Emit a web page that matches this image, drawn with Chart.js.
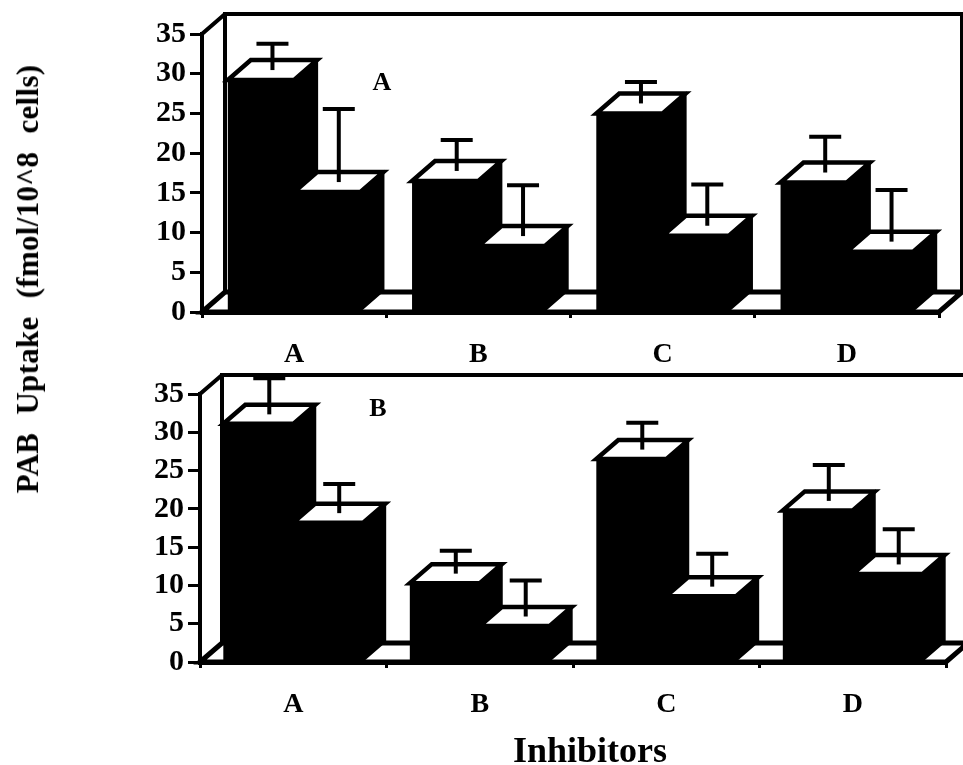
<!DOCTYPE html>
<html><head><meta charset="utf-8">
<script src="https://cdn.jsdelivr.net/npm/chart.js@4.4.1/dist/chart.umd.min.js"></script>
<style>
html,body{margin:0;padding:0;background:#fff;}
#wrap{position:relative;width:963px;height:765px;overflow:hidden;background:#fff;}
#c1{position:absolute;left:0;top:0;width:963px;height:375px;}
#c2{position:absolute;left:0;top:360px;width:963px;height:405px;}
#ytitle{position:absolute;left:28px;top:279px;transform:translate(-50%,-50%) rotate(-90deg);white-space:nowrap;font:bold 31px "Liberation Serif";word-spacing:10px;letter-spacing:0.3px;color:#000;}
</style></head>
<body><div id="wrap">
<canvas id="c1" width="963" height="375"></canvas>
<canvas id="c2" width="963" height="405"></canvas>
<div id="ytitle">PAB Uptake (fmol/10^8 cells)</div>
</div>
<script>
const categories = ['A', 'B', 'C', 'D'];
const tickValues = [0, 5, 10, 15, 20, 25, 30, 35];
const yTitle = 'PAB Uptake (fmol/10^8 cells)';
const xTitle = 'Inhibitors';
// Panel A
const panelA_series1 = [29.2, 16.5, 25.0, 16.3];
const panelA_series2 = [15.1, 8.3, 9.6, 7.6];
const panelA_err1 = [3.3, 3.9, 2.7, 4.5];
const panelA_err2 = [9.2, 6.4, 5.2, 6.5];
// Panel B
const panelB_series1 = [31.1, 10.3, 26.5, 19.8];
const panelB_series2 = [18.2, 4.7, 8.6, 11.5];
const panelB_err1 = [4.7, 3.0, 3.5, 4.7];
const panelB_err2 = [3.8, 4.7, 4.3, 4.6];

const FONT = '"Liberation Serif", "Times New Roman", serif';

function box3d(cfg) {
  return {
    id: 'box3d',
    beforeDatasetsDraw(chart) {
      const ctx = chart.ctx;
      const {left: L, right: R, top: T, bottom: B} = chart.chartArea;
      const dx = cfg.dx, dy = cfg.dy;
      ctx.save();
      ctx.strokeStyle = '#000';
      ctx.lineJoin = 'miter';
      ctx.lineWidth = 4;
      ctx.strokeRect(L + dx, T - dy, R - L, B - T);
      ctx.beginPath();
      ctx.moveTo(L, B); ctx.lineTo(L, T); ctx.lineTo(L + dx, T - dy);
      ctx.stroke();
      ctx.beginPath();
      ctx.moveTo(L, B); ctx.lineTo(L + dx, B - dy); ctx.lineTo(R + dx, B - dy); ctx.lineTo(R, B);
      ctx.closePath();
      ctx.fillStyle = '#fff'; ctx.fill();
      ctx.lineWidth = 5; ctx.stroke();
      const n = chart.data.labels.length;
      const metas = chart.data.datasets.map((d, i) => chart.getDatasetMeta(i));
      for (let i = 0; i < n; i++) {
        for (const m of metas) {
          const bar = m.data[i];
          const p = bar.getProps(['x', 'y', 'base', 'width'], true);
          const x1 = p.x - p.width / 2, x2 = p.x + p.width / 2, y = p.y, base = p.base;
          ctx.beginPath();
          ctx.moveTo(x2, y); ctx.lineTo(x2 + dx, y - dy); ctx.lineTo(x2 + dx, base - dy); ctx.lineTo(x2, base);
          ctx.closePath();
          ctx.fillStyle = '#000'; ctx.fill(); ctx.lineWidth = 2; ctx.stroke();
          ctx.beginPath();
          ctx.moveTo(x1, y); ctx.lineTo(x2, y); ctx.lineTo(x2 + dx, y - dy); ctx.lineTo(x1 + dx, y - dy);
          ctx.closePath();
          ctx.fillStyle = '#fff'; ctx.fill(); ctx.lineWidth = 4.5; ctx.stroke();
        }
      }
      ctx.restore();
    },
    afterDatasetsDraw(chart) {
      const ctx = chart.ctx;
      const yScale = chart.scales.y;
      const dx = cfg.dx, dy = cfg.dy;
      ctx.save();
      ctx.strokeStyle = '#000';
      ctx.lineWidth = 4;
      chart.data.datasets.forEach((ds, d) => {
        const meta = chart.getDatasetMeta(d);
        ds.data.forEach((v, i) => {
          const e = cfg.errors[d][i];
          const bar = meta.data[i];
          const xs = bar.x + dx / 2;
          const y0 = yScale.getPixelForValue(v) - dy / 2;
          const y1 = yScale.getPixelForValue(v + e) - dy / 2;
          ctx.beginPath(); ctx.moveTo(xs, y0); ctx.lineTo(xs, y1); ctx.stroke();
          ctx.beginPath(); ctx.moveTo(xs - 16, y1); ctx.lineTo(xs + 16, y1); ctx.stroke();
        });
      });
      ctx.fillStyle = '#000';
      ctx.font = 'bold 26px ' + FONT;
      ctx.textAlign = 'center';
      ctx.textBaseline = 'middle';
      ctx.fillText(cfg.letter, cfg.lx, cfg.ly);
      if (cfg.xTitle) {
        ctx.font = 'bold 36px ' + FONT;
        ctx.textBaseline = 'alphabetic';
        ctx.fillText(cfg.xTitle, cfg.tx, cfg.ty);
      }
      ctx.restore();
    }
  };
}

function makePanel(id, s1, s2, e1, e2, cfg) {
  return new Chart(document.getElementById(id), {
    type: 'bar',
    data: {
      labels: categories,
      datasets: [
        {data: s1, backgroundColor: '#000', borderWidth: 0, categoryPercentage: cfg.catPct, barPercentage: 1.0},
        {data: s2, backgroundColor: '#000', borderWidth: 0, categoryPercentage: cfg.catPct, barPercentage: 1.0}
      ]
    },
    options: {
      responsive: false,
      animation: false,
      devicePixelRatio: 1,
      layout: {padding: {left: 0, right: cfg.padRight, top: cfg.padTop, bottom: 0}},
      plugins: {legend: {display: false}, tooltip: {enabled: false}, title: {display: false}},
      scales: {
        x: {
          type: 'category',
          offset: true,
          grid: {offset: true, drawOnChartArea: false, drawTicks: true, tickLength: 6, color: '#000', lineWidth: 3},
          border: {display: true, color: '#000', width: 5},
          ticks: {color: '#000', font: {family: FONT, size: 28, weight: 'bold'}, padding: 20, maxRotation: 0, autoSkip: false},
          afterFit: (s) => { s.height = cfg.xHeight; }
        },
        y: {
          min: 0, max: 35,
          afterBuildTicks: (s) => { s.ticks = tickValues.map(v => ({value: v})); },
          grid: {drawOnChartArea: false, drawTicks: true, tickLength: 12, color: '#000', lineWidth: 3},
          border: {display: true, color: '#000', width: 4},
          ticks: {color: '#000', font: {family: FONT, size: 30, weight: 'bold', lineHeight: 1.0}, padding: 4, autoSkip: false},
          afterFit: (s) => { s.width = cfg.yWidth; }
        }
      }
    },
    plugins: [box3d({dx: cfg.dx, dy: cfg.dy, errors: [e1, e2], letter: cfg.letter, lx: cfg.lx, ly: cfg.ly,
      xTitle: cfg.xTitle, tx: cfg.tx, ty: cfg.ty})]
  });
}

makePanel('c1', panelA_series1, panelA_series2, panelA_err1, panelA_err2,
  {catPct: 0.72, padRight: 24, padTop: 34, xHeight: 63, yWidth: 202, dx: 23, dy: 20, letter: 'A', lx: 382, ly: 83});
makePanel('c2', panelB_series1, panelB_series2, panelB_err1, panelB_err2,
  {catPct: 0.75, padRight: 17, padTop: 34, xHeight: 103, yWidth: 200, dx: 22, dy: 19, letter: 'B', lx: 378, ly: 49,
   xTitle: xTitle, tx: 590, ty: 402});
</script>
</body></html>
